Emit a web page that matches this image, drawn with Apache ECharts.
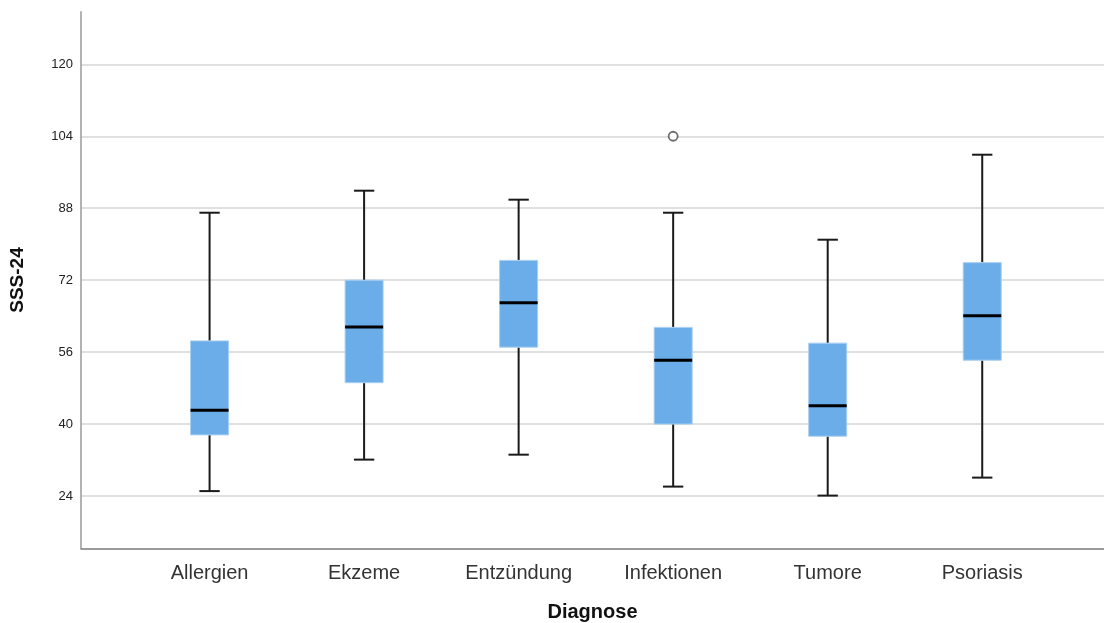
<!DOCTYPE html>
<html>
<head>
<meta charset="utf-8">
<script src="https://cdn.jsdelivr.net/npm/echarts@6/dist/echarts.min.js"></script>
<style>html,body{margin:0;padding:0;background:#fff;}#c{width:1104px;height:623px;}</style>
</head>
<body>
<div id="c"></div>
<script>
const categories = ['Allergien', 'Ekzeme', 'Entzündung', 'Infektionen', 'Tumore', 'Psoriasis'];
const whiskerLow = [25.1, 32.1, 33.2, 26.1, 24.1, 28.1];
const q1 = [37.6, 49.2, 57.1, 40.0, 37.3, 54.2];
const median = [43.1, 61.6, 67.0, 54.2, 44.1, 64.1];
const q3 = [58.5, 72.0, 76.4, 61.5, 58.0, 75.9];
const whiskerHigh = [87.0, 91.9, 89.9, 87.0, 81.0, 99.9];
const outliers = [[3, 104]];
const yTicks = [24, 40, 56, 72, 88, 104, 120];

const boxData = categories.map((c, i) => [i, whiskerLow[i], q1[i], median[i], q3[i], whiskerHigh[i]]);
const FONT = '"Liberation Sans", Arial, sans-serif';

const chart = echarts.init(document.getElementById('c'), null, {renderer: 'canvas'});
chart.setOption({
  animation: false,
  backgroundColor: '#ffffff',
  grid: {left: 81, right: 0, top: 11.7, bottom: 74.7, containLabel: false, outerBoundsMode: 'none'},
  xAxis: {
    type: 'value',
    min: -0.832,
    max: 5.788,
    name: 'Diagnose',
    nameLocation: 'middle',
    nameGap: 54,
    nameTextStyle: {fontFamily: FONT, fontSize: 20, fontWeight: 'bold', color: '#111'},
    axisLine: {show: true, onZero: false, lineStyle: {color: '#7a7a7a', width: 1.5}},
    axisTick: {show: false, customValues: [0, 1, 2, 3, 4, 5]},
    splitLine: {show: false},
    axisLabel: {
      customValues: [0, 1, 2, 3, 4, 5],
      formatter: v => categories[Math.round(v)],
      fontFamily: FONT, fontSize: 20, color: '#333', margin: 15
    }
  },
  yAxis: {
    type: 'value',
    min: 12.38,
    max: 131.7,
    name: 'SSS-24',
    nameLocation: 'middle',
    nameRotate: 90,
    nameGap: 54,
    nameTextStyle: {fontFamily: FONT, fontSize: 19, fontWeight: 'bold', color: '#111'},
    axisLine: {show: true, onZero: false, lineStyle: {color: '#9a9a9a', width: 1.5}},
    axisTick: {show: false, customValues: yTicks},
    axisLabel: {customValues: yTicks, fontFamily: FONT, fontSize: 13, color: '#222', margin: 8},
    splitLine: {show: true, lineStyle: {color: '#d6d6d6', width: 1.5}}
  },
  series: [
    {
      type: 'custom',
      data: boxData,
      encode: {x: 0, y: [1, 2, 3, 4, 5]},
      renderItem: function (params, api) {
        const x = api.value(0);
        const unit = api.size([1, 0])[0];
        const bw = unit * 0.246;
        const cw = unit * 0.125;
        const cx = api.coord([x, 0])[0];
        const yMin = api.coord([x, api.value(1)])[1];
        const yQ1 = api.coord([x, api.value(2)])[1];
        const yMed = api.coord([x, api.value(3)])[1];
        const yQ3 = api.coord([x, api.value(4)])[1];
        const yMax = api.coord([x, api.value(5)])[1];
        const ls = {stroke: '#1a1a1a', lineWidth: 2};
        return {
          type: 'group',
          children: [
            {type: 'line', shape: {x1: cx, y1: yMin, x2: cx, y2: yQ1}, style: ls},
            {type: 'line', shape: {x1: cx, y1: yQ3, x2: cx, y2: yMax}, style: ls},
            {type: 'line', shape: {x1: cx - cw / 2 - 0.5, y1: yMin, x2: cx + cw / 2 + 0.5, y2: yMin}, style: ls},
            {type: 'line', shape: {x1: cx - cw / 2 - 0.5, y1: yMax, x2: cx + cw / 2 + 0.5, y2: yMax}, style: ls},
            {type: 'rect', shape: {x: cx - bw / 2, y: yQ3, width: bw, height: yQ1 - yQ3},
             style: {fill: '#6aade8', stroke: '#a9cff2', lineWidth: 1}},
            {type: 'line', shape: {x1: cx - bw / 2, y1: yMed, x2: cx + bw / 2, y2: yMed},
             style: {stroke: '#000', lineWidth: 3}}
          ]
        };
      }
    },
    {
      type: 'scatter',
      data: outliers,
      symbol: 'circle',
      symbolSize: 9,
      itemStyle: {color: '#fff', borderColor: '#4a4a4a', borderWidth: 1.8}
    }
  ]
});
</script>
</body>
</html>
